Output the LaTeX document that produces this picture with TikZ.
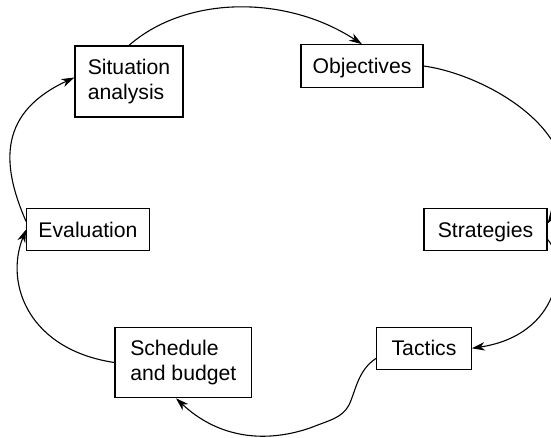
\documentclass[tikz,border=0pt]{standalone}
\usepackage{fontspec}
\setmainfont{Liberation Sans}
\usetikzlibrary{arrows.meta}

\begin{document}
\begin{tikzpicture}[
    x=0.5pt, y=-0.5pt,
    box/.style={draw, line width=0.6pt, inner sep=0pt, minimum height=21.2pt, align=left, font=\fontsize{10.6}{12.5}\selectfont},
    onebox/.style={box, text height=7.6pt, text depth=0pt},
    line/.style={-{Stealth[length=6.5pt, width=4.2pt, inset=2pt]}, line width=0.55pt}
]
\useasboundingbox (0,0) rectangle (551,438);
\node[box, minimum width=54pt, minimum height=35.5pt] (situation) at (129,81.5) {Situation\\analysis};
\node[onebox, minimum width=61pt] (objectives) at (362,66) {Objectives};
\node[onebox, minimum width=61.5pt] (strategies) at (485.5,229.5) {Strategies};
\node[onebox, minimum width=47.2pt] (tactics) at (424,348.3) {Tactics};
\node[box, minimum width=68.3pt, minimum height=35.2pt] (schedule) at (183.3,362.5) {Schedule\\and budget};
\node[onebox, minimum width=61.3pt] (evaluation) at (88,229.5) {Evaluation};
\draw[line] (situation.north) .. controls (185,-4) and (285,-6) .. (objectives.north);
\draw[line] (objectives.east) .. controls (490,75) and (600,140) .. ([yshift=3pt]strategies.east);
\draw[line] ([yshift=-5pt]strategies.east) .. controls (568,262) and (560,335) .. (tactics.east);
\draw[line] ([yshift=-5pt]tactics.west) .. controls (358,370) and (356,390) .. (349,405)
    .. controls (342,418) and (330,420) .. (310,428)
    .. controls (260,445) and (215,435) .. (schedule.south -| 176,0);
\draw[line] (schedule.west) .. controls (30,350) and (4,285) .. (evaluation.west);
\draw[line] ([yshift=4pt]evaluation.west) .. controls (0,162) and (0,112) .. ([yshift=2pt]situation.west);
\end{tikzpicture}
\end{document}
